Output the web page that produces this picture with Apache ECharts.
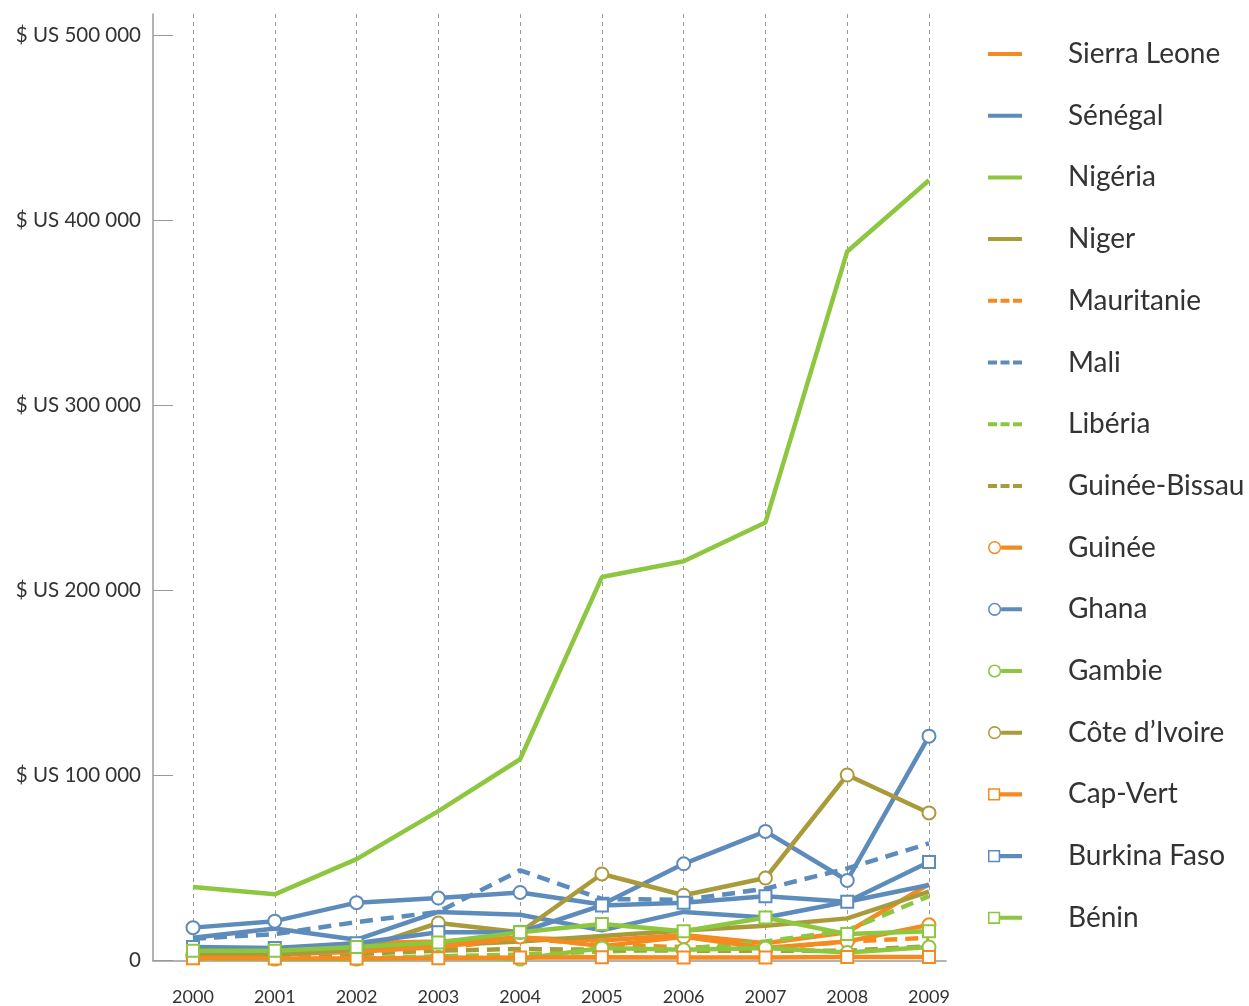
<!DOCTYPE html>
<html>
<head>
<meta charset="utf-8">
<script src="https://cdn.jsdelivr.net/npm/echarts@6/dist/echarts.min.js"></script>
<style>
html,body{margin:0;padding:0;background:#fff;}
#chart{width:1249px;height:1006px;}
</style>
</head>
<body>
<div id="chart"></div>
<script>
const years = ['2000','2001','2002','2003','2004','2005','2006','2007','2008','2009'];
const yTicks = [0, 100000, 200000, 300000, 400000, 500000];

const sierraLeone  = [3500, 6000, 9000, 10000, 12000, 10500, 13500, 9000, 15000, 41000];
const senegal      = [12000, 17000, 11000, 26000, 24500, 16000, 26000, 23000, 31500, 40500];
const nigeria      = [39500, 35500, 54500, 80500, 108500, 207000, 215500, 236500, 383000, 421500];
const niger        = [3000, 3500, 5000, 8000, 10000, 13000, 16000, 18500, 22500, 37000];
const mauritanie   = [1000, 1500, 3000, 6000, 12000, 8000, 7000, 6000, 10000, 12000];
const mali         = [11500, 14000, 20500, 26000, 48500, 33000, 32500, 38500, 49500, 63000];
const liberia      = [500, 1000, 1000, 2000, 3000, 4500, 6000, 10000, 16000, 34500];
const guineeBissau = [2000, 2500, 3500, 5000, 6000, 5500, 5000, 5000, 5000, 7500];
const guinee       = [2500, 3000, 4500, 7000, 12500, 7500, 12500, 6500, 10000, 19000];
const ghana        = [17500, 21000, 31000, 33500, 36500, 30000, 52000, 69500, 43000, 121000];
const gambie       = [1500, 500, 500, 1500, 500, 6500, 5500, 6500, 4000, 7000];
const coteIvoire   = [3000, 3000, 5500, 20000, 15000, 46500, 35000, 44300, 100000, 79500];
const capVert      = [1000, 800, 800, 1000, 1400, 1500, 1400, 1400, 1600, 1600];
const burkinaFaso  = [7000, 6500, 9000, 15000, 15000, 29500, 31000, 34500, 31500, 53000];
const benin        = [5000, 5000, 7000, 9500, 15000, 19500, 15500, 23000, 14000, 15500];

const ORANGE = '#F58B20', BLUE = '#5D8BBB', GREEN = '#8DC63F', OLIVE = '#AA9B3A';

const seriesDefs = [
  ['Sierra Leone', sierraLeone, ORANGE, 'solid', 'none'],
  ['Sénégal', senegal, BLUE, 'solid', 'none'],
  ['Nigéria', nigeria, GREEN, 'solid', 'none'],
  ['Niger', niger, OLIVE, 'solid', 'none'],
  ['Mauritanie', mauritanie, ORANGE, 'dashed', 'none'],
  ['Mali', mali, BLUE, 'dashed', 'none'],
  ['Libéria', liberia, GREEN, 'dashed', 'none'],
  ['Guinée-Bissau', guineeBissau, OLIVE, 'dashed', 'none'],
  ['Guinée', guinee, ORANGE, 'solid', 'emptyCircle'],
  ['Ghana', ghana, BLUE, 'solid', 'emptyCircle'],
  ['Gambie', gambie, GREEN, 'solid', 'emptyCircle'],
  ['Côte d\u2019Ivoire', coteIvoire, OLIVE, 'solid', 'emptyCircle'],
  ['Cap-Vert', capVert, ORANGE, 'solid', 'emptyRect'],
  ['Burkina Faso', burkinaFaso, BLUE, 'solid', 'emptyRect'],
  ['Bénin', benin, GREEN, 'solid', 'emptyRect']
];

// legend icon shapes (34 x 14 box)
const ICON_LINE = 'path://M0,5h34v4h-34z';
const ICON_DASH = 'path://M0,5h9v4h-9z M12.5,5h9v4h-9z M25,5h9v4h-9z';
const ICON_CIRCLE = 'path://M0.5,7a6.5,6.5 0 1,0 13,0a6.5,6.5 0 1,0 -13,0z M2,7a5,5 0 1,1 10,0a5,5 0 1,1 -10,0z M13.5,5h20.5v4h-20.5z';
const ICON_RECT = 'path://M0.5,1h12v12h-12z M2,2.5v9h9v-9z M12.5,5h21.5v4h-21.5z';

const FONT = 'Lato, "Noto Sans", sans-serif';

function fmt(v) {
  if (v === 0) return '0';
  const s = String(v).replace(/\B(?=(\d{3})+(?!\d))/g, ' ');
  return '$ US ' + s;
}

function iconFor(dash, sym) {
  if (sym === 'emptyCircle') return ICON_CIRCLE;
  if (sym === 'emptyRect') return ICON_RECT;
  return dash === 'dashed' ? ICON_DASH : ICON_LINE;
}

const series = seriesDefs.map(([name, data, color, dash, sym]) => ({
  name: name,
  type: 'line',
  xAxisIndex: 0,
  yAxisIndex: 0,
  data: data,
  color: color,
  symbol: sym,
  symbolSize: sym === 'emptyRect' ? 12 : 13,
  showSymbol: sym !== 'none',
  lineStyle: { width: 4.5, color: color, type: dash === 'dashed' ? [13, 8] : 'solid', cap: 'butt' },
  itemStyle: { color: color, borderColor: color, borderWidth: 1.5 },
  emphasis: { disabled: true }
}));

const chart = echarts.init(document.getElementById('chart'), null, { renderer: 'canvas' });
chart.setOption({
  animation: false,
  backgroundColor: '#ffffff',
  grid: [
    { left: 193, right: 320, top: 35, bottom: 45 },
    { left: 153, right: 303, top: 14, bottom: 45 },
    { left: 193, right: 320, top: 14, bottom: 45 }
  ],
  xAxis: [
    {
      gridIndex: 0, type: 'category', data: years, boundaryGap: false,
      axisLine: { show: false }, axisTick: { show: false }, splitLine: { show: false },
      axisLabel: { margin: 28, fontSize: 18, color: '#333', fontFamily: FONT }
    },
    {
      gridIndex: 1, type: 'value', min: 0, max: 1,
      axisLine: { show: true, lineStyle: { color: '#9a9a9a', width: 1.5 } },
      axisTick: { show: false }, axisLabel: { show: false }, splitLine: { show: false }
    },
    {
      gridIndex: 2, type: 'category', data: years, boundaryGap: false,
      axisLine: { show: false }, axisTick: { show: false }, axisLabel: { show: false },
      splitLine: { show: true, lineStyle: { color: '#9a9a9a', width: 1, type: [4, 4] } }
    }
  ],
  yAxis: [
    {
      gridIndex: 0, type: 'value', min: yTicks[0], max: yTicks[yTicks.length - 1], interval: 100000,
      offset: 40,
      axisLine: { show: false },
      axisTick: { show: true, inside: true, length: 20, lineStyle: { color: '#9a9a9a', width: 1 } },
      splitLine: { show: false },
      axisLabel: { margin: 12, fontSize: 20.5, color: '#333', fontFamily: FONT, formatter: fmt }
    },
    {
      gridIndex: 1, type: 'value', min: 0, max: 1,
      axisLine: { show: true, lineStyle: { color: '#9a9a9a', width: 1.5 } },
      axisTick: { show: false }, axisLabel: { show: false }, splitLine: { show: false }
    },
    {
      gridIndex: 2, type: 'value', min: 0, max: 1, show: false
    }
  ],
  legend: {
    orient: 'vertical',
    left: 983,
    top: 35,
    itemWidth: 34,
    itemHeight: 14,
    itemGap: 33.7,
    selectedMode: false,
    itemStyle: { borderWidth: 0 },
    textStyle: { fontSize: 28, color: '#333', fontFamily: FONT, padding: [0, 0, 0, 41] },
    data: seriesDefs.map(([name, , color, dash, sym]) => ({
      name: name,
      icon: iconFor(dash, sym),
      itemStyle: { color: color, borderWidth: 0 }
    }))
  },
  series: series
});
</script>
</body>
</html>
